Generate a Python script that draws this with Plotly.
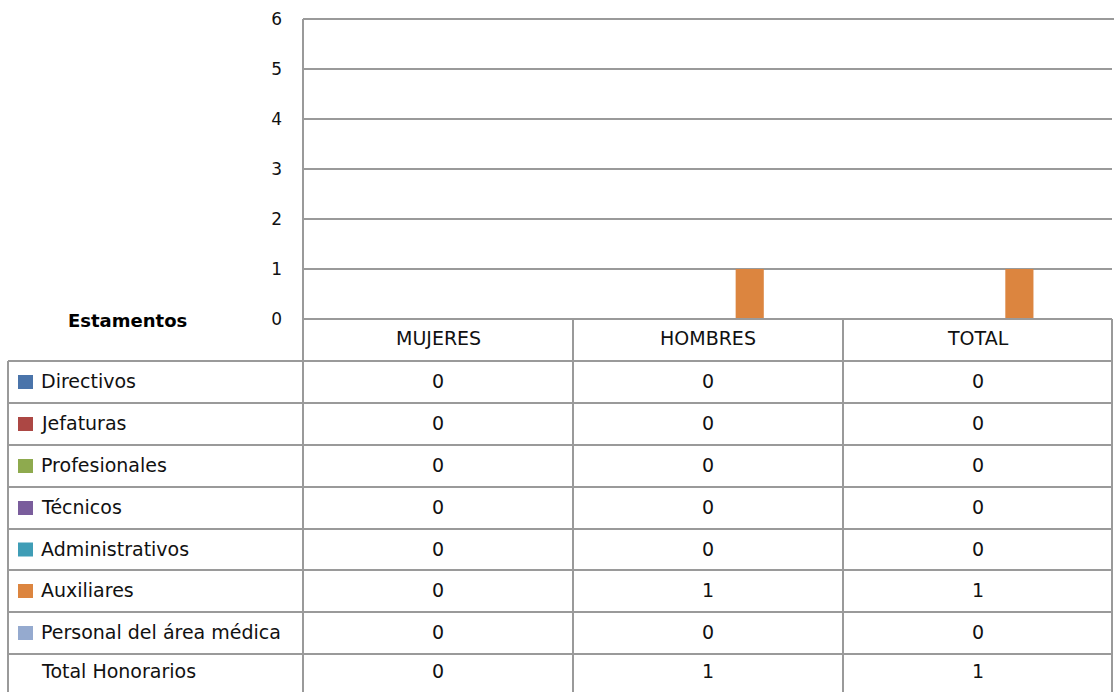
import plotly.graph_objects as go

categories = ["MUJERES", "HOMBRES", "TOTAL"]
series_names = ["Directivos", "Jefaturas", "Profesionales", "Técnicos",
                "Administrativos", "Auxiliares", "Personal del área médica",
                "Total Honorarios"]
directivos = [0, 0, 0]
jefaturas = [0, 0, 0]
profesionales = [0, 0, 0]
tecnicos = [0, 0, 0]
administrativos = [0, 0, 0]
auxiliares = [0, 1, 1]
personal_medico = [0, 0, 0]
total_honorarios = [0, 1, 1]
series_values = [directivos, jefaturas, profesionales, tecnicos,
                 administrativos, auxiliares, personal_medico, total_honorarios]
colors = ["#4A74AA", "#AC4744", "#8EAA4E", "#7A5D9C", "#3F9DB6",
          "#DC853F", "#95AACF", "rgba(0,0,0,0)"]
y_ticks = [0, 1, 2, 3, 4, 5, 6]

W, H = 1114, 692
# plot area in page pixels
P_LEFT, P_RIGHT, P_TOP, P_BOTTOM = 303, 1112, 19, 319
L = P_LEFT
T = P_TOP
R = W - P_RIGHT
B = H - P_BOTTOM
PW = P_RIGHT - P_LEFT
PH = P_BOTTOM - P_TOP

def px_x(x):
    return (x - P_LEFT) / PW

def px_y(y):
    return (P_BOTTOM - y) / PH

FONT = "DejaVu Sans"
FS = 19
LINE = "#9a9a9a"
TXT = "#111111"

fig = go.Figure()
for name, vals, col in zip(series_names, series_values, colors):
    fig.add_trace(go.Bar(x=categories, y=vals, name=name,
                         marker=dict(color=col, line=dict(width=0)),
                         showlegend=False))

row_tops = [361, 403, 445, 487, 529, 570, 612, 654, 696]
col_edges = [303, 573, 843, 1112]
table_left = 8

def hline(y, x0, x1):
    return dict(type="line", xref="paper", yref="paper",
                x0=px_x(x0), x1=px_x(x1), y0=px_y(y), y1=px_y(y),
                line=dict(color=LINE, width=2))

def vline(x, y0, y1):
    return dict(type="line", xref="paper", yref="paper",
                x0=px_x(x), x1=px_x(x), y0=px_y(y0), y1=px_y(y1),
                line=dict(color=LINE, width=2))

shapes = [hline(P_TOP, P_LEFT, 1114), hline(P_BOTTOM, P_LEFT, P_RIGHT)]
for yt in row_tops:
    shapes.append(hline(yt, table_left, P_RIGHT))
shapes.append(vline(table_left, 361, 700))
shapes.append(vline(P_LEFT, P_TOP, 700))
for xe in col_edges[1:]:
    shapes.append(vline(xe, P_BOTTOM, 700))

annotations = []
for i, cat in enumerate(categories):
    cx = (col_edges[i] + col_edges[i + 1]) / 2
    annotations.append(dict(x=px_x(cx), y=px_y(338), xref="paper", yref="paper",
                            text=cat, showarrow=False, xanchor="center", yanchor="middle",
                            font=dict(family=FONT, size=FS, color=TXT)))
annotations.append(dict(x=px_x(127), y=px_y(320), xref="paper", yref="paper",
                        text="<b>Estamentos</b>", showarrow=False,
                        xanchor="center", yanchor="middle",
                        font=dict(family=FONT, size=18, color="#000000")))
for r, (name, vals, col) in enumerate(zip(series_names, series_values, colors)):
    yc = (row_tops[r] + row_tops[r + 1]) / 2 - 1
    if r == len(series_names) - 1:
        yc = row_tops[r] + 17
    annotations.append(dict(x=px_x(39), y=px_y(yc), xref="paper", yref="paper",
                            text=name, showarrow=False, xanchor="left", yanchor="middle",
                            font=dict(family=FONT, size=FS, color=TXT)))
    if col != "rgba(0,0,0,0)":
        shapes.append(dict(type="rect", xref="paper", yref="paper",
                           x0=px_x(18), x1=px_x(33), y0=px_y(yc - 6), y1=px_y(yc + 8),
                           fillcolor=col, line=dict(width=0)))
    for i, v in enumerate(vals):
        cx = (col_edges[i] + col_edges[i + 1]) / 2
        annotations.append(dict(x=px_x(cx), y=px_y(yc), xref="paper", yref="paper",
                                text=str(v), showarrow=False, xanchor="center",
                                yanchor="middle",
                                font=dict(family=FONT, size=FS, color=TXT)))

fig.update_layout(
    width=W, height=H,
    margin=dict(l=L, r=R, t=T, b=B, autoexpand=False),
    paper_bgcolor="white", plot_bgcolor="white",
    barmode="group", bargap=0.165, bargroupgap=0,
    xaxis=dict(range=[-0.5, 2.5], showticklabels=False, showgrid=False,
               zeroline=False, showline=False, ticks=""),
    yaxis=dict(range=[0, 6], tickvals=y_ticks, showgrid=True, gridcolor=LINE,
               gridwidth=2, zeroline=False, showline=False, ticks="",
               ticklabelstandoff=20,
               tickfont=dict(family=FONT, size=17, color=TXT)),
    shapes=shapes, annotations=annotations,
)

fig.write_html("out.html",
               config={"displayModeBar": False},
               post_script="document.body.style.margin='0';"
                           "document.documentElement.style.overflow='hidden';")
